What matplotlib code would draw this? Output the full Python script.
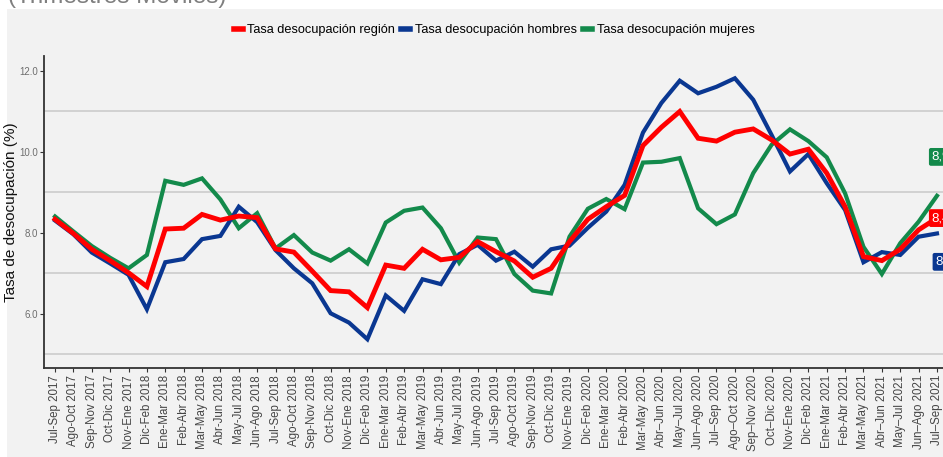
import matplotlib
matplotlib.use("Agg")
import matplotlib.pyplot as plt
from matplotlib.patches import Rectangle

periods = [
    "Jul-Sep 2017", "Ago-Oct 2017", "Sep-Nov 2017", "Oct-Dic 2017", "Nov-Ene 2017",
    "Dic-Feb 2018", "Ene-Mar 2018", "Feb-Abr 2018", "Mar-May 2018", "Abr-Jun 2018",
    "May-Jul 2018", "Jun-Ago 2018", "Jul-Sep 2018", "Ago-Oct 2018", "Sep-Nov 2018",
    "Oct-Dic 2018", "Nov-Ene 2018", "Dic-Feb 2019", "Ene-Mar 2019", "Feb-Abr 2019",
    "Mar-May 2019", "Abr-Jun 2019", "May-Jul 2019", "Jun-Ago 2019", "Jul-Sep 2019",
    "Ago-Oct 2019", "Sep-Nov 2019", "Oct-Dic 2019", "Nov-Ene 2019", "Dic-Feb 2020",
    "Ene-Mar 2020", "Feb-Abr 2020", "Mar-May 2020", "Abr\u2013Jun 2020", "May\u2013Jul 2020",
    "Jun\u2013Ago 2020", "Jul\u2013Sep 2020", "Ago\u2013Oct 2020", "Sep\u2013Nov 2020", "Oct\u2013Dic 2020",
    "Nov-Ene 2020", "Dic-Feb 2021", "Ene-Mar 2021", "Feb-Abr 2021", "Mar-May 2021",
    "Abr\u2013Jun 2021", "May\u2013Jul 2021", "Jun\u2013Ago 2021", "Jul\u2013Sep 2021",
]

region = [8.33, 7.98, 7.59, 7.31, 7.01, 6.67, 8.09, 8.11, 8.45, 8.31,
          8.41, 8.37, 7.60, 7.52, 7.05, 6.57, 6.54, 6.15, 7.20, 7.12,
          7.59, 7.33, 7.39, 7.78, 7.53, 7.30, 6.90, 7.12, 7.78, 8.33,
          8.64, 8.92, 10.15, 10.60, 10.99, 10.33, 10.26, 10.48, 10.56, 10.29,
          9.94, 10.06, 9.47, 8.64, 7.41, 7.31, 7.59, 8.07, 8.36]

hombres = [8.30, 7.96, 7.51, 7.24, 6.96, 6.11, 7.27, 7.35, 7.84, 7.92,
           8.64, 8.26, 7.57, 7.12, 6.75, 6.01, 5.78, 5.37, 6.45, 6.07,
           6.85, 6.73, 7.47, 7.70, 7.31, 7.53, 7.16, 7.59, 7.68, 8.12,
           8.52, 9.18, 10.47, 11.20, 11.75, 11.44, 11.60, 11.81, 11.28, 10.41,
           9.51, 9.94, 9.22, 8.56, 7.27, 7.52, 7.45, 7.90, 7.98]

mujeres = [8.40, 8.03, 7.67, 7.38, 7.12, 7.45, 9.28, 9.18, 9.34, 8.82,
           8.11, 8.48, 7.61, 7.94, 7.51, 7.31, 7.59, 7.24, 8.25, 8.54,
           8.62, 8.11, 7.26, 7.88, 7.84, 6.98, 6.57, 6.50, 7.90, 8.59,
           8.83, 8.58, 9.73, 9.75, 9.84, 8.60, 8.21, 8.45, 9.47, 10.17,
           10.55, 10.26, 9.86, 8.97, 7.65, 6.98, 7.74, 8.27, 8.91]

c_region = "#FF0000"
c_hombres = "#0A3791"
c_mujeres = "#138A4B"
bg = "#F2F2F2"

plt.rcParams["font.family"] = ["Liberation Sans", "DejaVu Sans"]

fig = plt.figure(figsize=(9.43, 4.57), dpi=100)
fig.patch.set_facecolor("white")
fig.patches.append(Rectangle((7 / 943, 0), 1, 1 - 9 / 457, transform=fig.transFigure,
                             facecolor=bg, edgecolor="none", zorder=-10))

fig.text(0.008, 0.993, "(Trimestres Móviles)", fontsize=17.5, color="#7F7F7F",
         ha="left", va="baseline")

ax = fig.add_axes([44 / 943, 89 / 457, 904 / 943, 312 / 457])
ax.set_facecolor(bg)

x = list(range(len(periods)))
ax.plot(x, mujeres, color=c_mujeres, lw=3.0, solid_joinstyle="miter", zorder=3,
        label="Tasa desocupación mujeres")
ax.plot(x, hombres, color=c_hombres, lw=3.0, solid_joinstyle="miter", zorder=4,
        label="Tasa desocupación hombres")
ax.plot(x, region, color=c_region, lw=3.5, solid_joinstyle="miter", zorder=5,
        label="Tasa desocupación región")

ax.set_xlim(-0.6, 48.6)
ax.set_ylim(4.66, 12.36)
ax.set_yticks([6, 8, 10, 12])
ax.set_yticklabels(["6.0", "8.0", "10.0", "12.0"])
ax.set_yticks([5, 7, 9, 11], minor=True)
ax.grid(True, axis="y", which="minor", color="#CCCCCC", lw=1.2)
ax.tick_params(axis="y", which="minor", length=0)
ax.tick_params(axis="y", which="major", labelsize=7, labelcolor="#6E6E6E",
               color="#333333", length=3, pad=1.5)
ax.set_xticks(x)
ax.set_xticklabels(periods, rotation=90, fontsize=8.3, color="#444444")
ax.tick_params(axis="x", color="#333333", length=3, pad=2)

for s in ["top", "right"]:
    ax.spines[s].set_visible(False)
for s in ["left", "bottom"]:
    ax.spines[s].set_color("#333333")
    ax.spines[s].set_linewidth(1.3)

ax.set_ylabel("Tasa de desocupación (%)", fontsize=11, color="#111111")
ax.yaxis.set_label_coords(-25.5 / 904, 0.5)

# end-of-line value labels (cut by the right edge, as in the original)
last = [(mujeres[-1], 9.87, 47.72, c_mujeres), (region[-1], 8.36, 47.72, c_region),
        (hombres[-1], 7.28, 47.92, c_hombres)]
for val, ypos, xpos, col in last:
    ax.text(xpos, ypos, f"{val:.1f}".replace(".", ","), color="white", fontsize=9.5,
            ha="left", va="center", clip_on=False, zorder=6,
            bbox=dict(boxstyle="round,pad=0.22,rounding_size=0.15", fc=col, ec="none"))

handles, labels = ax.get_legend_handles_labels()
order = [2, 1, 0]
leg = fig.legend([handles[i] for i in order], [labels[i] for i in order],
                 loc="center", bbox_to_anchor=(494 / 943, 1 - 30 / 457), ncol=3,
                 frameon=False, fontsize=9.2,
                 handlelength=0.7, handletextpad=0.35, columnspacing=0.5)
for h in leg.legend_handles:
    h.set_linewidth(4)

fig.savefig("out.png", dpi=100, facecolor=fig.get_facecolor())
